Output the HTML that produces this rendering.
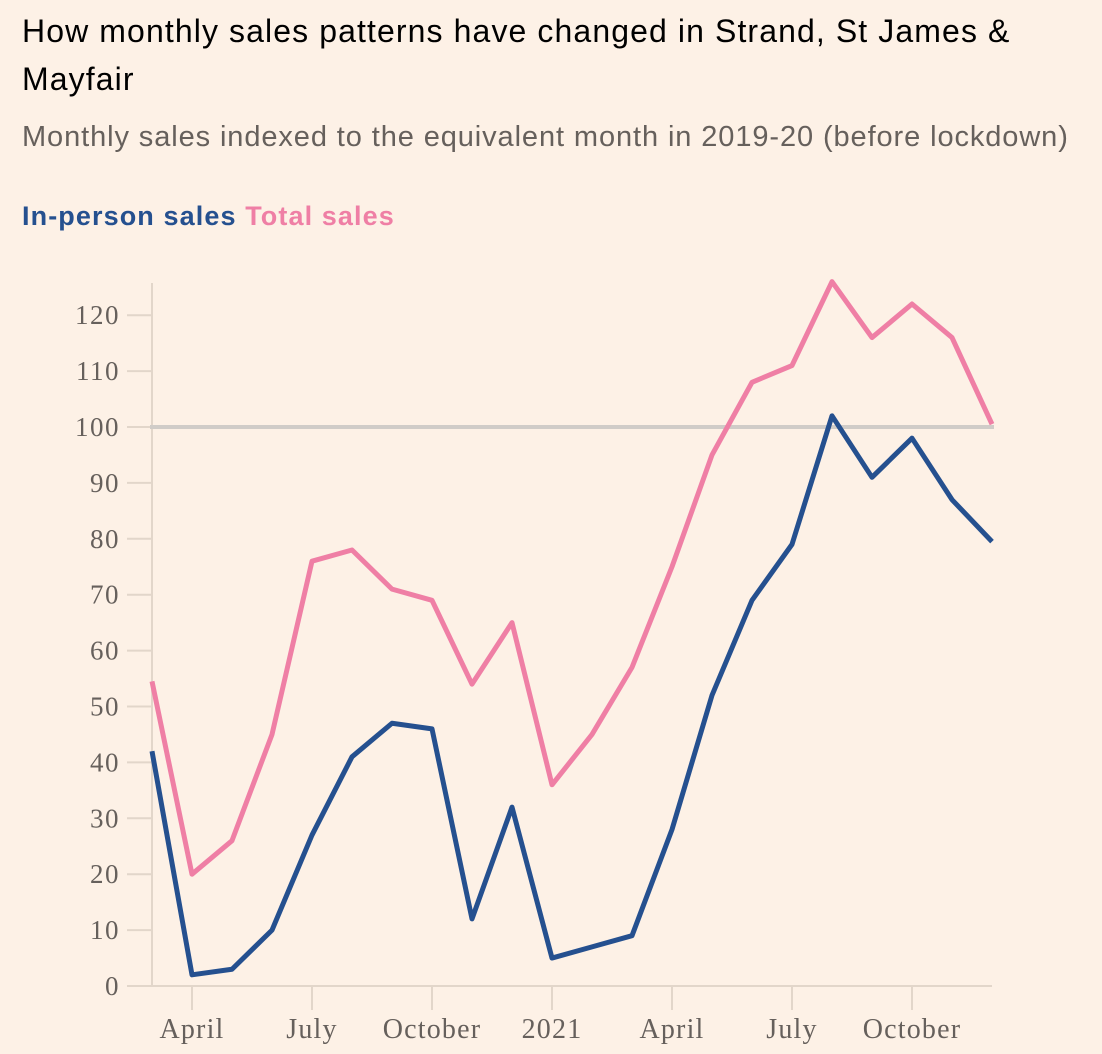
<!DOCTYPE html>
<html><head><meta charset="utf-8"><style>
body{margin:0;background:#fdf1e6;width:1102px;height:1054px;overflow:hidden;font-family:"Liberation Sans",sans-serif}
.t{position:absolute;left:22px;top:7px;font-size:32px;letter-spacing:1.1px;line-height:48px;color:#000;white-space:nowrap}
.s{position:absolute;left:22px;top:121px;font-size:29px;letter-spacing:0.9px;color:#66605c;white-space:nowrap}
.l{position:absolute;left:22px;top:201px;font-size:27px;letter-spacing:1.1px;font-weight:bold}
</style></head><body>
<div class="t">How monthly sales patterns have changed in Strand, St James &amp;<br>Mayfair</div>
<div class="s">Monthly sales indexed to the equivalent month in 2019-20 (before lockdown)</div>
<div class="l"><span style="color:#25508f">In-person sales</span> <span style="color:#ef7fa5">Total sales</span></div>
<svg id="c" width="1102" height="1054" style="position:absolute;left:0;top:0"></svg>
<script>
const inPerson=[42,2,3,10,27,41,47,46,12,32,5,7,9,28,52,69,79,102,91,98,87,79.5];
const total=[54.5,20,26,45,76,78,71,69,54,65,36,45,57,75,95,108,111,126,116,122,116,100.5];
const yTicks=[0,10,20,30,40,50,60,70,80,90,100,110,120];
const xTickIdx=[1,4,7,10,13,16,19];
const xTickLabels=["April","July","October","2021","April","July","October"];
const svg=document.getElementById('c');const NS='http://www.w3.org/2000/svg';
const x=i=>152+i*40;const y=v=>986-v*5.59;
function mk(t,a,p){const e=document.createElementNS(NS,t);for(const k in a)e.setAttribute(k,a[k]);(p||svg).appendChild(e);return e;}
const ax='#e2d6ca',tc='#66605c';
let e=mk('line',{x1:152,y1:283,x2:152,y2:986,stroke:ax,'stroke-width':2});


yTicks.forEach(v=>{
 let l=mk('line',{x1:127,x2:v===0?992:152,y1:y(v),y2:y(v),stroke:ax,'stroke-width':2});
 
 
 let t=mk('text',{x:120,y:y(v)+9,'text-anchor':'end','font-size':27,'letter-spacing':1.5,fill:tc,'font-family':'Liberation Serif,serif'});
 t.textContent=v;
 
 
});
xTickIdx.forEach((i,k)=>{
 let l=mk('line',{x1:x(i),x2:x(i),y1:986,y2:1010,stroke:ax,'stroke-width':2});
 
 
 let t=mk('text',{x:x(i),y:1038,'text-anchor':'middle','font-size':28,'letter-spacing':1.2,fill:tc,'font-family':'Liberation Serif,serif'});
 t.textContent=xTickLabels[k];
 
 
});
let r=mk('line',{x1:150,x2:994,y1:y(100),y2:y(100),stroke:'#d0ccc8','stroke-width':4});


function line(d,c,n){let p=mk('polyline',{points:d.map((v,i)=>x(i)+','+y(v)).join(' '),fill:'none',stroke:c,'stroke-width':5,'stroke-linejoin':'round'});
 
 }
line(total,'#ef7fa5','total-sales-line');
line(inPerson,'#25508f','in-person-sales-line');
</script>
</body></html>
